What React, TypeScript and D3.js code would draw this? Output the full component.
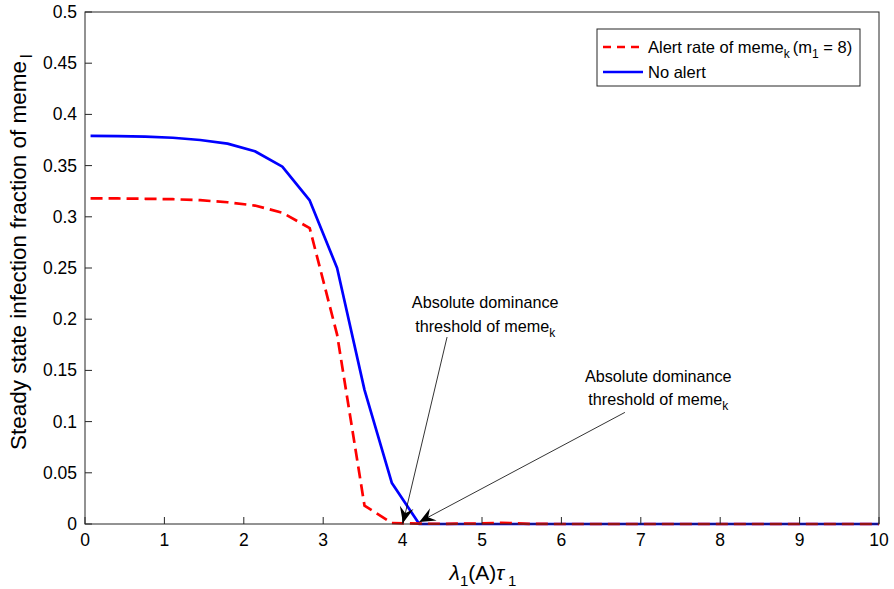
import React from "react";
import * as d3 from "d3";

const xValues = [0.07, 0.415, 0.76, 1.105, 1.45, 1.795, 2.14, 2.485, 2.83, 3.175, 3.52, 3.865, 4.21, 4.555, 4.9, 5.245, 5.59, 5.935, 6.28, 6.625, 6.97, 7.315, 7.66, 8.005, 8.35, 8.695, 9.04, 9.385, 9.73, 10];
const noAlert = [0.379, 0.3787, 0.3782, 0.3772, 0.375, 0.3715, 0.364, 0.349, 0.316, 0.25, 0.131, 0.04, 0, 0, 0, 0, 0, 0, 0, 0, 0, 0, 0, 0, 0, 0, 0, 0, 0, 0];
const alertRate = [0.318, 0.3179, 0.3176, 0.3172, 0.3162, 0.3142, 0.311, 0.304, 0.289, 0.185, 0.018, 0.001, 0.0003, 0.0002, 0.0004, 0.0012, 0.0002, 0, 0, 0, 0, 0, 0, 0, 0, 0, 0, 0, 0, 0];
const xTicks = [0, 1, 2, 3, 4, 5, 6, 7, 8, 9, 10];
const yTicks = [0, 0.05, 0.1, 0.15, 0.2, 0.25, 0.3, 0.35, 0.4, 0.45, 0.5];
const annTextX = [5.04, 7.22];
const annLine1Y = [0.211, 0.1387];
const annLine2Y = [0.1875, 0.116];
const annStart = [[4.56, 0.1826], [6.8, 0.109]];
const annTip = [[4.005, 0.001], [4.21, 0.002]];

const W = 894, H = 589;
const L = 85, R = 879, T = 12, B = 524;
const FONT = "'Liberation Sans', Arial, Helvetica, sans-serif";

export default function App() {
  const x = d3.scaleLinear().domain([0, 10]).range([L, R]);
  const y = d3.scaleLinear().domain([0, 0.5]).range([B, T]);
  const line = d3.line<number>().x((_, i) => x(xValues[i])).y((d) => y(d));
  const fmt = (v: number) => (v === 0 ? "0" : String(+v.toFixed(2)));

  const arrow = (sx: number, sy: number, tx: number, ty: number) => {
    const ang = Math.atan2(ty - sy, tx - sx);
    const len = 16, wid = 7, notch = 10;
    const ux = Math.cos(ang), uy = Math.sin(ang);
    const px = -uy, py = ux;
    const bx = tx - ux * len, by = ty - uy * len;
    const nx = tx - ux * notch, ny = ty - uy * notch;
    return `M${tx},${ty}L${bx + px * wid},${by + py * wid}L${nx},${ny}L${bx - px * wid},${by - py * wid}Z`;
  };

  return (
    <svg width={W} height={H} style={{ position: "absolute", left: 0, top: 0, background: "#fff" }} fontFamily={FONT}>
      <rect x={0} y={0} width={W} height={H} fill="#fff" />
      <path d={line(noAlert) || ""} fill="none" stroke="#0000ff" strokeWidth={2.7} strokeLinejoin="round" />
      <path d={line(alertRate) || ""} fill="none" stroke="#ff0000" strokeWidth={2.7} strokeDasharray="12,6" />
      <rect x={L} y={T} width={R - L} height={B - T} fill="none" stroke="#262626" strokeWidth={1} />
      {xTicks.map((t) => (
        <g key={"x" + t}>
          <line x1={x(t)} x2={x(t)} y1={B} y2={B - 7} stroke="#262626" />
          <text x={x(t)} y={B + 22} fontSize={17.5} textAnchor="middle" fill="#000">{t}</text>
        </g>
      ))}
      {yTicks.map((t) => (
        <g key={"y" + t}>
          <line x1={L} x2={L + 7} y1={y(t)} y2={y(t)} stroke="#262626" />
          <text x={L - 8} y={y(t) + 6} fontSize={17.5} textAnchor="end" fill="#000">{fmt(t)}</text>
        </g>
      ))}
      <text x={483} y={580} fontSize={21} textAnchor="middle" fill="#000">
        <tspan fontStyle="italic">λ</tspan>
        <tspan fontSize={15} dy={6}>1</tspan>
        <tspan dy={-6}>(A)</tspan>
        <tspan fontStyle="italic">τ</tspan>
        <tspan fontSize={15} dy={6} dx={4}>1</tspan>
      </text>
      <text transform={`translate(26,450) rotate(-90)`} fontSize={22.5} fill="#000">
        Steady state infection fraction of meme
        <tspan fontSize={16} dy={6} dx={3}>l</tspan>
      </text>
      <rect x={597} y={29} width={263} height={57} fill="#fff" stroke="#262626" strokeWidth={1} />
      <line x1={603} x2={643} y1={47} y2={47} stroke="#ff0000" strokeWidth={2.7} strokeDasharray="8,6" />
      <line x1={603} x2={643} y1={72} y2={72} stroke="#0000ff" strokeWidth={2.7} />
      <text x={648} y={53} fontSize={16.5} fill="#000">
        Alert rate of meme<tspan fontSize={12} dy={5}>k</tspan>
        <tspan dy={-5} dx={3}>(m</tspan>
        <tspan fontSize={12} dy={5}>1</tspan>
        <tspan dy={-5}> = 8)</tspan>
      </text>
      <text x={648} y={78} fontSize={16.5} fill="#000">No alert</text>
      {annTextX.map((tx, i) => (
        <g key={"a" + i}>
          <text x={x(tx)} y={y(annLine1Y[i])} fontSize={16.2} textAnchor="middle" fill="#000">Absolute dominance</text>
          <text x={x(tx)} y={y(annLine2Y[i])} fontSize={16.2} textAnchor="middle" fill="#000">
            threshold of meme<tspan fontSize={12} dy={5}>k</tspan>
          </text>
          <line x1={x(annStart[i][0])} y1={y(annStart[i][1])} x2={x(annTip[i][0])} y2={y(annTip[i][1])} stroke="#000" strokeWidth={0.8} />
          <path d={arrow(x(annStart[i][0]), y(annStart[i][1]), x(annTip[i][0]), y(annTip[i][1]))} fill="#000" />
        </g>
      ))}
    </svg>
  );
}
